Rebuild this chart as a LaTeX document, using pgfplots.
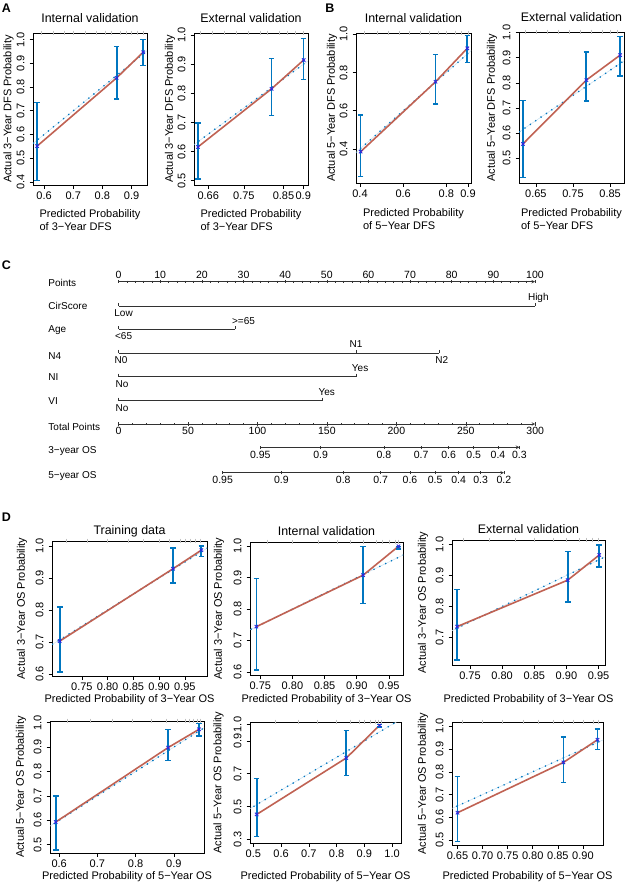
\documentclass[border=0pt]{standalone}
\usepackage{fontspec}
\setmainfont{Liberation Sans}
\usepackage{pgfplots}
\usepackage{pgfplotstable}
\pgfplotsset{compat=1.18}

\definecolor{errblue}{RGB}{0,118,192}
\definecolor{calred}{RGB}{192,98,83}
\definecolor{ptblue}{RGB}{45,35,225}
\definecolor{nomo}{RGB}{50,50,50}

\newcommand{\fs}[1]{\fontsize{#1}{#1}\selectfont}

% calibration points: mean predicted, observed, lower and upper limit
\pgfplotstableread{
x     y     lo    hi
0.576 0.551 0.407 0.736
0.849 0.839 0.750 0.972
0.940 0.947 0.891 1.000
}\dAL
\pgfplotstableread{
x     y     lo    hi
0.634 0.616 0.506 0.699
0.820 0.816 0.724 0.920
0.901 0.915 0.849 0.989
}\dAR
\pgfplotstableread{
x     y     lo    hi
0.403 0.386 0.255 0.578
0.750 0.752 0.635 0.895
0.897 0.927 0.852 0.993
}\dBL
\pgfplotstableread{
x     y     lo    hi
0.615 0.557 0.425 0.729
0.786 0.811 0.728 0.923
0.877 0.910 0.827 0.983
}\dBR
\pgfplotstableread{
x     y     lo    hi
0.707 0.703 0.606 0.809
0.927 0.929 0.884 0.994
0.982 0.987 0.968 1.000
}\dDa
\pgfplotstableread{
x     y     lo    hi
0.744 0.744 0.606 0.897
0.910 0.908 0.818 1.000
0.965 1.000 0.992 1.000
}\dDb
\pgfplotstableread{
x     y     lo    hi
0.730 0.735 0.627 0.855
0.902 0.885 0.815 0.977
0.951 0.966 0.928 0.998
}\dDc
\pgfplotstableread{
x     y     lo    hi
0.591 0.593 0.479 0.700
0.885 0.898 0.845 0.973
0.966 0.973 0.946 0.997
}\dDd
\pgfplotstableread{
x     y     lo    hi
0.512 0.452 0.318 0.670
0.835 0.796 0.690 0.965
0.955 0.995 0.985 1.000
}\dDe
\pgfplotstableread{
x     y     lo    hi
0.650 0.620 0.493 0.779
0.861 0.841 0.753 0.953
0.929 0.941 0.897 0.988
}\dDf

\pgfplotsset{
  calib/.style={
    scale only axis, anchor=north west,
    axis line style={black, line width=0.7pt},
    every tick/.style={black, line width=0.6pt},
    tick align=outside, major tick length=3.5pt,
    xtick pos=left, ytick pos=left,
    ticklabel style={font=\fs{11}},
    yticklabel style={xshift=-1.5pt, rotate=90, anchor=south},
    every axis title/.style={at={(0.5,1)}, anchor=base, font=\fs{12.4}},
    every axis x label/.style={at={(axis description cs:0.5,0)}, anchor=north, align=left,
      font=\fontsize{11}{13.3}\selectfont},
    every axis y label/.style={at={(axis description cs:0,0.5)}, rotate=90, anchor=center,
      font=\fs{11}},
  },
  ttl/.style={title style={yshift=#1}},
  xlab/.style={xlabel style={yshift=-#1}},
  ylab/.style={ylabel style={yshift=#1}},
  bars/.style={only marks, mark=x, mark size=2.4pt, mark options={ptblue, line width=0.9pt},
    error bars/.cd, y dir=both, y explicit,
    error bar style={errblue, line width=1.7pt},
    error mark options={errblue, line width=1.4pt, mark size=2.8pt, rotate=90}},
  rug/.style={only marks, mark=|, mark size=2.4pt, mark options={gray!50, line width=0.35pt}},
  nomoaxis/.style={scale only axis, height=1pt, ymin=0, ymax=1, axis y line=none,
    axis line style={-, nomo, line width=0.6pt}, tick align=outside,
    every tick/.style={nomo, line width=0.5pt}, major tick length=3.5pt, minor tick length=2pt,
    xticklabel style={font=\fs{10.5}, inner sep=1pt}},
}

\newcommand{\calcurves}[1]{%
  \addplot[errblue!22, line width=0.5pt] coordinates {(0.2,0.2) (1.1,1.1)};
  \addplot[errblue, line width=1.8pt, dash pattern=on 0pt off 6.5pt, line cap=round]
    coordinates {(0.2,0.2) (1.1,1.1)};
  \addplot[calred, line width=1.6pt] table[x=x, y=y] {#1};
  \addplot[bars] table[x=x, y=y, y error plus expr=\thisrow{hi}-\thisrow{y},
    y error minus expr=\thisrow{y}-\thisrow{lo}] {#1};
}

\begin{document}
\begin{tikzpicture}
\useasboundingbox (0,0) rectangle (635pt,-887pt);

\node[font=\bfseries\fs{12.5}] at (6.5pt,-8.5pt) {A};
\node[font=\bfseries\fs{12.5}] at (330pt,-8.5pt) {B};
\node[font=\bfseries\fs{12.5}] at (6.5pt,-265pt) {C};
\node[font=\bfseries\fs{12.5}] at (6.5pt,-517pt) {D};

% ---------------- A ----------------
\begin{axis}[calib, at={(33pt,-33pt)}, width=114pt, height=152pt,
  xmin=0.562, xmax=0.953, ymin=0.387, ymax=1.028,
  xtick={0.6,0.7,0.8,0.9}, xticklabels={0.6,0.7,0.8,0.9},
  ytick={0.4,0.5,0.6,0.7,0.8,0.9,1.0}, yticklabels={0.4,0.5,0.6,0.7,0.8,0.9,1.0},
  title={Internal validation}, ttl=10.5pt,
  xlabel={Predicted Probability\\ of 3−Year DFS}, xlab=21pt,
  ylabel={Actual 3−Year DFS Probability}, ylab=24.5pt]
\calcurves{\dAL}
\addplot[rug] coordinates {(0.59,1.028) (0.63,1.028) (0.67,1.028) (0.70,1.028) (0.74,1.028)
  (0.78,1.028) (0.81,1.028) (0.83,1.028) (0.86,1.028) (0.88,1.028) (0.90,1.028) (0.92,1.028) (0.94,1.028)};
\end{axis}

\begin{axis}[calib, at={(194pt,-33pt)}, width=114pt, height=152pt,
  xmin=0.624, xmax=0.912, ymin=0.485, ymax=1.008,
  xtick={0.66,0.75,0.85,0.9}, xticklabels={0.66,0.75,0.85,0.9},
  ytick={0.5,0.6,0.7,0.8,0.9,1.0}, yticklabels={0.5,0.6,0.7,0.8,0.9,1.0},
  title={External validation}, ttl=10.5pt,
  xlabel={Predicted Probability\\ of 3−Year DFS}, xlab=21pt,
  ylabel={Actual 3−Year DFS Probability}, ylab=24pt]
\calcurves{\dAR}
\addplot[rug] coordinates {(0.64,1.008) (0.67,1.008) (0.70,1.008) (0.73,1.008) (0.76,1.008)
  (0.79,1.008) (0.81,1.008) (0.84,1.008) (0.86,1.008) (0.88,1.008) (0.90,1.008)};
\end{axis}

% ---------------- B ----------------
\begin{axis}[calib, at={(356pt,-33pt)}, width=115pt, height=150pt,
  xmin=0.3815, xmax=0.914, ymin=0.222, ymax=1.007,
  xtick={0.4,0.6,0.8,0.9}, xticklabels={0.4,0.6,0.8,0.9},
  ytick={0.4,0.6,0.8,1.0}, yticklabels={0.4,0.6,0.8,1.0},
  title={Internal validation}, ttl=10.5pt,
  xlabel={Predicted Probability\\ of 5−Year DFS}, xlab=22pt,
  ylabel={Actual 5−Year DFS Probability}, ylab=24pt]
\calcurves{\dBL}
\addplot[rug] coordinates {(0.42,1.007) (0.48,1.007) (0.53,1.007) (0.58,1.007) (0.63,1.007)
  (0.68,1.007) (0.72,1.007) (0.76,1.007) (0.80,1.007) (0.84,1.007) (0.87,1.007) (0.90,1.007)};
\end{axis}

\begin{axis}[calib, at={(519pt,-32pt)}, width=105pt, height=151pt,
  xmin=0.6045, xmax=0.8875, ymin=0.402, ymax=1.002,
  xtick={0.65,0.75,0.85}, xticklabels={0.65,0.75,0.85},
  ytick={0.5,0.6,0.7,0.8,0.9,1.0}, yticklabels={0.5,0.6,0.7,0.8,0.9,1.0},
  title={External validation}, ttl=10.5pt,
  xlabel={Predicted Probability\\ of 5−Year DFS}, xlab=22pt,
  ylabel={Actual 5−Year DFS Probability}, ylab=27pt]
\calcurves{\dBR}
\addplot[rug] coordinates {(0.62,1.002) (0.65,1.002) (0.68,1.002) (0.71,1.002) (0.74,1.002)
  (0.77,1.002) (0.80,1.002) (0.83,1.002) (0.85,1.002) (0.87,1.002)};
\end{axis}

% ---------------- C: nomogram ----------------
\begin{axis}[nomoaxis, at={(118.6pt,-281.7pt)}, anchor=north west, width=416.4pt,
  xmin=0, xmax=100, axis x line=top,
  xtick={0,10,20,30,40,50,60,70,80,90,100},
  xticklabels={0,10,20,30,40,50,60,70,80,90,100}, minor x tick num=4]
\end{axis}

\begin{axis}[nomoaxis, at={(118.6pt,-424pt)}, anchor=south west, width=416.6pt,
  xmin=0, xmax=300, axis x line=bottom,
  xtick={0,50,100,150,200,250,300}, xticklabels={0,50,100,150,200,250,300},
  minor x tick num=4]
\end{axis}

\begin{axis}[nomoaxis, at={(260.3pt,-447.3pt)}, anchor=south west, width=259.1pt,
  xmin=102, xmax=288.6, axis x line=bottom, xticklabel style={inner sep=2pt},
  xtick={102,145.4,191,217.8,237.6,255.7,273.2,288.6},
  xticklabels={0.95,0.9,0.8,0.7,0.6,0.5,0.4,0.3}]
\end{axis}

\begin{axis}[nomoaxis, at={(222.7pt,-472.7pt)}, anchor=south west, width=281.2pt,
  xmin=75, xmax=277.5, axis x line=bottom, xticklabel style={inner sep=2pt},
  xtick={75,117.2,161.8,188.7,209.9,228,244.9,260.7,277.5},
  xticklabels={0.95,0.9,0.8,0.7,0.6,0.5,0.4,0.3,0.2}]
\end{axis}

\begin{axis}[at={(118.6pt,-260pt)}, anchor=north west, scale only axis,
  width=416.4pt, height=230pt, xmin=0, xmax=100, ymin=-490, ymax=-260,
  hide axis, clip=false,
  every node/.style={font=\fs{10.5}, text=black, inner sep=0pt}]
% predictor lines
\addplot[nomo, line width=0.6pt] coordinates {(0,-306) (100,-306)};
\addplot[nomo, line width=0.6pt] coordinates {(0,-329.3) (28,-329.3)};
\addplot[nomo, line width=0.6pt] coordinates {(0,-353) (77,-353)};
\addplot[nomo, line width=0.6pt] coordinates {(0,-376.7) (57,-376.7)};
\addplot[nomo, line width=0.6pt] coordinates {(0,-400.7) (49,-400.7)};
% level ticks
\addplot[only marks, mark=|, mark size=1.6pt, mark options={nomo, line width=0.5pt, yshift=1.6pt}]
  coordinates {(0,-306) (100,-306) (0,-329.3) (28,-329.3) (0,-353) (57,-353) (77,-353)
  (0,-376.7) (57,-376.7) (0,-400.7) (49,-400.7)};
% level labels
\node[anchor=base] at (axis cs:100.8,-300.9) {High};
\node[anchor=base] at (axis cs:1.2,-316.3) {Low};
\node[anchor=base] at (axis cs:30,-324.2) {>=65};
\node[anchor=base] at (axis cs:1.2,-339.6) {<65};
\node[anchor=base] at (axis cs:57,-347.9) {N1};
\node[anchor=base] at (axis cs:0.6,-363.3) {N0};
\node[anchor=base] at (axis cs:77.6,-363.3) {N2};
\node[anchor=base] at (axis cs:58,-371.6) {Yes};
\node[anchor=base] at (axis cs:0.8,-387) {No};
\node[anchor=base] at (axis cs:50,-395.6) {Yes};
\node[anchor=base] at (axis cs:0.8,-411) {No};
% row names
\node[anchor=base west] at (axis cs:-17.7,-286.3) {Points};
\node[anchor=base west] at (axis cs:-17.7,-309.6) {CirScore};
\node[anchor=base west] at (axis cs:-17.7,-332.9) {Age};
\node[anchor=base west] at (axis cs:-17.7,-359.6) {N4};
\node[anchor=base west] at (axis cs:-17.7,-380.3) {NI};
\node[anchor=base west] at (axis cs:-17.7,-404.3) {VI};
\node[anchor=base west] at (axis cs:-17.7,-430.9) {Total Points};
\node[anchor=base west] at (axis cs:-17.7,-453.6) {3−year OS};
\node[anchor=base west] at (axis cs:-17.7,-478.6) {5−year OS};
\end{axis}

% ---------------- D, top row ----------------
\begin{axis}[calib, at={(52pt,-541pt)}, width=155pt, height=135pt,
  xmin=0.692, xmax=0.993, ymin=0.594, ymax=1.0156,
  xtick={0.75,0.8,0.85,0.9,0.95}, xticklabels={0.75,0.80,0.85,0.90,0.95},
  ytick={0.6,0.7,0.8,0.9,1.0}, yticklabels={0.6,0.7,0.8,0.9,1.0},
  title={Training data}, ttl=6.8pt,
  xlabel={Predicted Probability of 3−Year OS}, xlab=15pt,
  ylabel={Actual 3−Year OS Probability}, ylab=30pt]
\calcurves{\dDa}
\addplot[rug] coordinates {(0.72,1.0156) (0.76,1.0156) (0.80,1.0156) (0.84,1.0156) (0.87,1.0156)
  (0.90,1.0156) (0.92,1.0156) (0.94,1.0156) (0.95,1.0156) (0.96,1.0156) (0.97,1.0156) (0.98,1.0156)};
\end{axis}

\begin{axis}[calib, at={(250pt,-542pt)}, width=153pt, height=133pt,
  xmin=0.734, xmax=0.972, ymin=0.59, ymax=1.0137,
  xtick={0.75,0.8,0.85,0.9,0.95}, xticklabels={0.75,0.80,0.85,0.90,0.95},
  ytick={0.6,0.7,0.8,0.9,1.0}, yticklabels={0.6,0.7,0.8,0.9,1.0},
  title={Internal validation}, ttl=6.8pt,
  xlabel={Predicted Probability of 3−Year OS}, xlab=16pt,
  ylabel={Actual 3−Year OS Probability}, ylab=31pt]
\calcurves{\dDb}
\addplot[rug] coordinates {(0.76,1.0137) (0.80,1.0137) (0.84,1.0137) (0.87,1.0137) (0.89,1.0137)
  (0.91,1.0137) (0.93,1.0137) (0.94,1.0137) (0.95,1.0137) (0.96,1.0137) (0.965,1.0137)};
\end{axis}

\begin{axis}[calib, at={(452pt,-540pt)}, width=153pt, height=125pt,
  xmin=0.722, xmax=0.960, ymin=0.611, ymax=1.0145,
  xtick={0.75,0.8,0.85,0.9,0.95}, xticklabels={0.75,0.80,0.85,0.90,0.95},
  ytick={0.7,0.8,0.9,1.0}, yticklabels={0.7,0.8,0.9,1.0},
  title={External validation}, ttl=6.8pt,
  xlabel={Predicted Probability of 3−Year OS}, xlab=26pt,
  ylabel={Actual 3−Year OS Probability}, ylab=29pt]
\calcurves{\dDc}
\addplot[rug] coordinates {(0.74,1.0145) (0.78,1.0145) (0.82,1.0145) (0.85,1.0145) (0.88,1.0145)
  (0.90,1.0145) (0.92,1.0145) (0.93,1.0145) (0.94,1.0145) (0.95,1.0145)};
\end{axis}

% ---------------- D, bottom row ----------------
\begin{axis}[calib, at={(50pt,-721pt)}, width=154pt, height=132pt,
  xmin=0.576, xmax=0.979, ymin=0.466, ymax=1.007,
  xtick={0.6,0.7,0.8,0.9}, xticklabels={0.6,0.7,0.8,0.9},
  ytick={0.5,0.6,0.7,0.8,0.9,1.0}, yticklabels={0.5,0.6,0.7,0.8,0.9,1.0},
  xlabel={Predicted Probability of 5−Year OS}, xlab=15pt,
  ylabel={Actual 5−Year OS Probability}, ylab=29pt]
\calcurves{\dDd}
\addplot[rug] coordinates {(0.62,1.007) (0.68,1.007) (0.74,1.007) (0.79,1.007) (0.84,1.007)
  (0.88,1.007) (0.91,1.007) (0.93,1.007) (0.94,1.007) (0.95,1.007) (0.96,1.007) (0.97,1.007)};
\end{axis}

\begin{axis}[calib, at={(250pt,-722pt)}, width=151pt, height=121pt,
  xmin=0.488, xmax=1.032, ymin=0.278, ymax=1.015,
  xtick={0.5,0.6,0.7,0.8,0.9,1.0}, xticklabels={0.5,0.6,0.7,0.8,0.9,1.0},
  ytick={0.3,0.5,0.7,0.9,1.0}, yticklabels={0.3,0.5,0.7,0.9,1.0},
  xlabel={Predicted Probability of 5−Year OS}, xlab=25pt,
  ylabel={Actual 5−Year OS Probability}, ylab=31.5pt]
\calcurves{\dDe}
\addplot[rug] coordinates {(0.58,1.015) (0.66,1.015) (0.73,1.015) (0.80,1.015) (0.85,1.015)
  (0.88,1.015) (0.90,1.015) (0.92,1.015) (0.94,1.015) (0.95,1.015) (0.96,1.015)};
\end{axis}

\begin{axis}[calib, at={(452pt,-722pt)}, width=151pt, height=123pt,
  xmin=0.639, xmax=0.940, ymin=0.478, ymax=1.019,
  xtick={0.65,0.7,0.75,0.8,0.85,0.9}, xticklabels={0.65,0.70,0.75,0.80,0.85,0.90},
  ytick={0.5,0.6,0.7,0.8,0.9,1.0}, yticklabels={0.5,0.6,0.7,0.8,0.9,1.0},
  xlabel={Predicted Probability of 5−Year OS}, xlab=23pt,
  ylabel={Actual 5−Year OS Probability}, ylab=29pt]
\calcurves{\dDf}
\addplot[rug] coordinates {(0.66,1.019) (0.70,1.019) (0.74,1.019) (0.78,1.019) (0.81,1.019)
  (0.84,1.019) (0.86,1.019) (0.88,1.019) (0.90,1.019) (0.92,1.019) (0.93,1.019)};
\end{axis}
\end{tikzpicture}
\end{document}
